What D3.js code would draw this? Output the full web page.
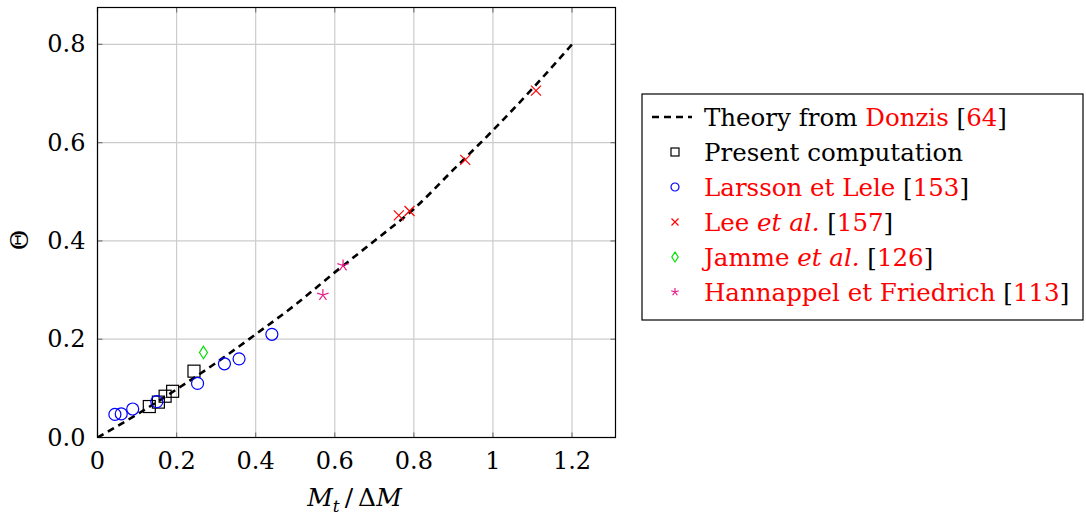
<!DOCTYPE html>
<html><head><meta charset="utf-8">
<script src="https://cdn.jsdelivr.net/npm/d3@7"></script>
<style>
html,body{margin:0;padding:0;background:#fff;}
</style></head>
<body>
<svg id="chart" width="1086" height="521"></svg>
<script>
// ---- data ----
const xTicks = [0, 0.2, 0.4, 0.6, 0.8, 1, 1.2];
const xTickLabels = ["0", "0.2", "0.4", "0.6", "0.8", "1", "1.2"];
const yTicks = [0, 0.2, 0.4, 0.6, 0.8];
const yTickLabels = ["0.0", "0.2", "0.4", "0.6", "0.8"];

const theoryX = [0, 0.1, 0.2, 0.3, 0.4, 0.5, 0.6, 0.7, 0.8, 0.9, 1.0, 1.1, 1.2];
const theoryY = [0, 0.047, 0.098, 0.152, 0.21, 0.27, 0.336, 0.4, 0.465, 0.545, 0.625, 0.71, 0.8];

const presentX = [0.131, 0.154, 0.171, 0.19, 0.244];
const presentY = [0.063, 0.072, 0.084, 0.094, 0.135];

const larssonX = [0.044, 0.06, 0.089, 0.15, 0.253, 0.321, 0.358, 0.441];
const larssonY = [0.047, 0.048, 0.058, 0.073, 0.11, 0.15, 0.16, 0.21];

const leeX = [0.762, 0.789, 0.93, 1.109];
const leeY = [0.452, 0.461, 0.565, 0.706];

const jammeX = [0.268];
const jammeY = [0.173];

const hannappelX = [0.57, 0.621];
const hannappelY = [0.29, 0.35];

// ---- layout ----
const FONT = "'DejaVu Serif', serif";
const svg = d3.select("#chart").attr("font-family", FONT);
const L = 97.5, R = 615.5, T = 7.5, B = 437.5;
const x = d3.scaleLinear().domain([0, 1.31]).range([L, R]);
const y = d3.scaleLinear().domain([0, 0.875]).range([B, T]);

const RED = "#ff0000", BLUE = "#0000ff", GREEN = "#00e000", MAG = "#e8198b";

// grid
const g = svg.append("g");
g.selectAll(".vg").data(xTicks).join("line")
  .attr("x1", d => x(d)).attr("x2", d => x(d)).attr("y1", T).attr("y2", B)
  .attr("stroke", "#cccccc").attr("stroke-width", 1.2);
g.selectAll(".hg").data(yTicks).join("line")
  .attr("y1", d => y(d)).attr("y2", d => y(d)).attr("x1", L).attr("x2", R)
  .attr("stroke", "#cccccc").attr("stroke-width", 1.2);

// tick marks inside on all sides
const tk = 5;
g.selectAll(".tb").data(xTicks).join("line")
  .attr("x1", d => x(d)).attr("x2", d => x(d)).attr("y1", B).attr("y2", B - tk)
  .attr("stroke", "#777").attr("stroke-width", 1.2);
g.selectAll(".tt").data(xTicks).join("line")
  .attr("x1", d => x(d)).attr("x2", d => x(d)).attr("y1", T).attr("y2", T + tk)
  .attr("stroke", "#777").attr("stroke-width", 1.2);
g.selectAll(".tl").data(yTicks).join("line")
  .attr("y1", d => y(d)).attr("y2", d => y(d)).attr("x1", L).attr("x2", L + tk)
  .attr("stroke", "#777").attr("stroke-width", 1.2);
g.selectAll(".tr").data(yTicks).join("line")
  .attr("y1", d => y(d)).attr("y2", d => y(d)).attr("x1", R).attr("x2", R - tk)
  .attr("stroke", "#777").attr("stroke-width", 1.2);

// frame
svg.append("rect").attr("x", L).attr("y", T).attr("width", R - L).attr("height", B - T)
  .attr("fill", "none").attr("stroke", "#000").attr("stroke-width", 1.2);

// tick labels
svg.selectAll(".xl").data(xTicks).join("text")
  .attr("x", d => x(d)).attr("y", B + 31)
  .attr("text-anchor", "middle").attr("font-size", 24)
  .text((d, i) => xTickLabels[i]);
svg.selectAll(".yl").data(yTicks).join("text")
  .attr("x", L - 12).attr("y", d => y(d) + 8)
  .attr("text-anchor", "end").attr("font-size", 24)
  .text((d, i) => yTickLabels[i]);

// axis labels
const xl = svg.append("text").attr("x", (L + R) / 2 - 2).attr("y", 506)
  .attr("text-anchor", "middle").attr("font-size", 25).attr("font-style", "italic");
xl.append("tspan").text("M");
xl.append("tspan").attr("font-size", 17).attr("dy", 6).text("t");
xl.append("tspan").attr("dy", -6).attr("font-style", "normal").text("\u2009/\u2009Δ");
xl.append("tspan").text("M");

svg.append("text").attr("transform", "translate(28,240) rotate(-90)")
  .attr("text-anchor", "middle").attr("font-size", 25).text("Θ");

// clip
svg.append("clipPath").attr("id", "clip").append("rect")
  .attr("x", L).attr("y", T).attr("width", R - L).attr("height", B - T);
const plot = svg.append("g").attr("clip-path", "url(#clip)");

// theory line
const line = d3.line().x(d => x(d[0])).y(d => y(d[1])).curve(d3.curveMonotoneX);
plot.append("path").datum(theoryX.map((v, i) => [v, theoryY[i]]))
  .attr("d", line).attr("fill", "none").attr("stroke", "#000")
  .attr("stroke-width", 2.6).attr("stroke-dasharray", "7,5");

// markers
function drawMarker(sel, type, s) {
  if (type === "square") {
    sel.append("rect").attr("x", -s).attr("y", -s).attr("width", 2 * s).attr("height", 2 * s)
      .attr("fill", "none").attr("stroke", "#000").attr("stroke-width", 1.2);
  } else if (type === "circle") {
    sel.append("circle").attr("r", s).attr("fill", "none").attr("stroke", BLUE).attr("stroke-width", 1.2);
  } else if (type === "x") {
    sel.append("path").attr("d", `M${-s},${-s}L${s},${s}M${-s},${s}L${s},${-s}`)
      .attr("stroke", RED).attr("stroke-width", 1.2).attr("fill", "none");
  } else if (type === "diamond") {
    sel.append("path").attr("d", `M0,${-s * 1.25}L${s * 0.8},0L0,${s * 1.25}L${-s * 0.8},0Z`)
      .attr("stroke", GREEN).attr("stroke-width", 1.2).attr("fill", "none");
  } else if (type === "star") {
    let d = "";
    for (let k = 0; k < 5; k++) {
      const a = -Math.PI / 2 + k * 2 * Math.PI / 5;
      d += `M0,0L${(s * Math.cos(a)).toFixed(2)},${(s * Math.sin(a)).toFixed(2)}`;
    }
    sel.append("path").attr("d", d).attr("stroke", MAG).attr("stroke-width", 1.2).attr("fill", "none");
  }
}
function series(xs, ys, type, s) {
  xs.forEach((v, i) => {
    const m = plot.append("g").attr("transform", `translate(${x(v)},${y(ys[i])})`);
    drawMarker(m, type, s);
  });
}
series(presentX, presentY, "square", 6);
series(larssonX, larssonY, "circle", 6);
series(leeX, leeY, "x", 5);
series(jammeX, jammeY, "diamond", 5);
series(hannappelX, hannappelY, "star", 6);

// legend
const lg = svg.append("g");
lg.append("rect").attr("x", 642).attr("y", 94).attr("width", 441).attr("height", 226)
  .attr("fill", "#fff").attr("stroke", "#000").attr("stroke-width", 1.2);
const rowY = [117, 152, 187, 222, 257, 292];
const textX = 704, symX = 675;
lg.append("line").attr("x1", 652).attr("x2", 692).attr("y1", rowY[0]).attr("y2", rowY[0])
  .attr("stroke", "#000").attr("stroke-width", 2.6).attr("stroke-dasharray", "7,5");
const legTypes = ["square", "circle", "x", "diamond", "star"];
legTypes.forEach((t, i) => {
  const m = lg.append("g").attr("transform", `translate(${symX},${rowY[i + 1]})`);
  drawMarker(m, t, t === "x" ? 3.5 : 4);
});
const legendItems = [
  [["Theory from ", "#000"], ["Donzis", RED], [" [", "#000"], ["64", RED], ["]", "#000"]],
  [["Present computation", "#000"]],
  [["Larsson et Lele", RED], [" [", "#000"], ["153", RED], ["]", "#000"]],
  [["Lee ", RED], ["et al.", RED, true], [" [", "#000"], ["157", RED], ["]", "#000"]],
  [["Jamme ", RED], ["et al.", RED, true], [" [", "#000"], ["126", RED], ["]", "#000"]],
  [["Hannappel et Friedrich", RED], [" [", "#000"], ["113", RED], ["]", "#000"]]
];
legendItems.forEach((parts, i) => {
  const t = lg.append("text").attr("x", textX).attr("y", rowY[i] + 9).attr("font-size", 24.5)
    .style("white-space", "pre");
  parts.forEach(p => {
    t.append("tspan").attr("fill", p[1]).attr("font-style", p[2] ? "italic" : "normal").text(p[0]);
  });
});
</script>
</body></html>
